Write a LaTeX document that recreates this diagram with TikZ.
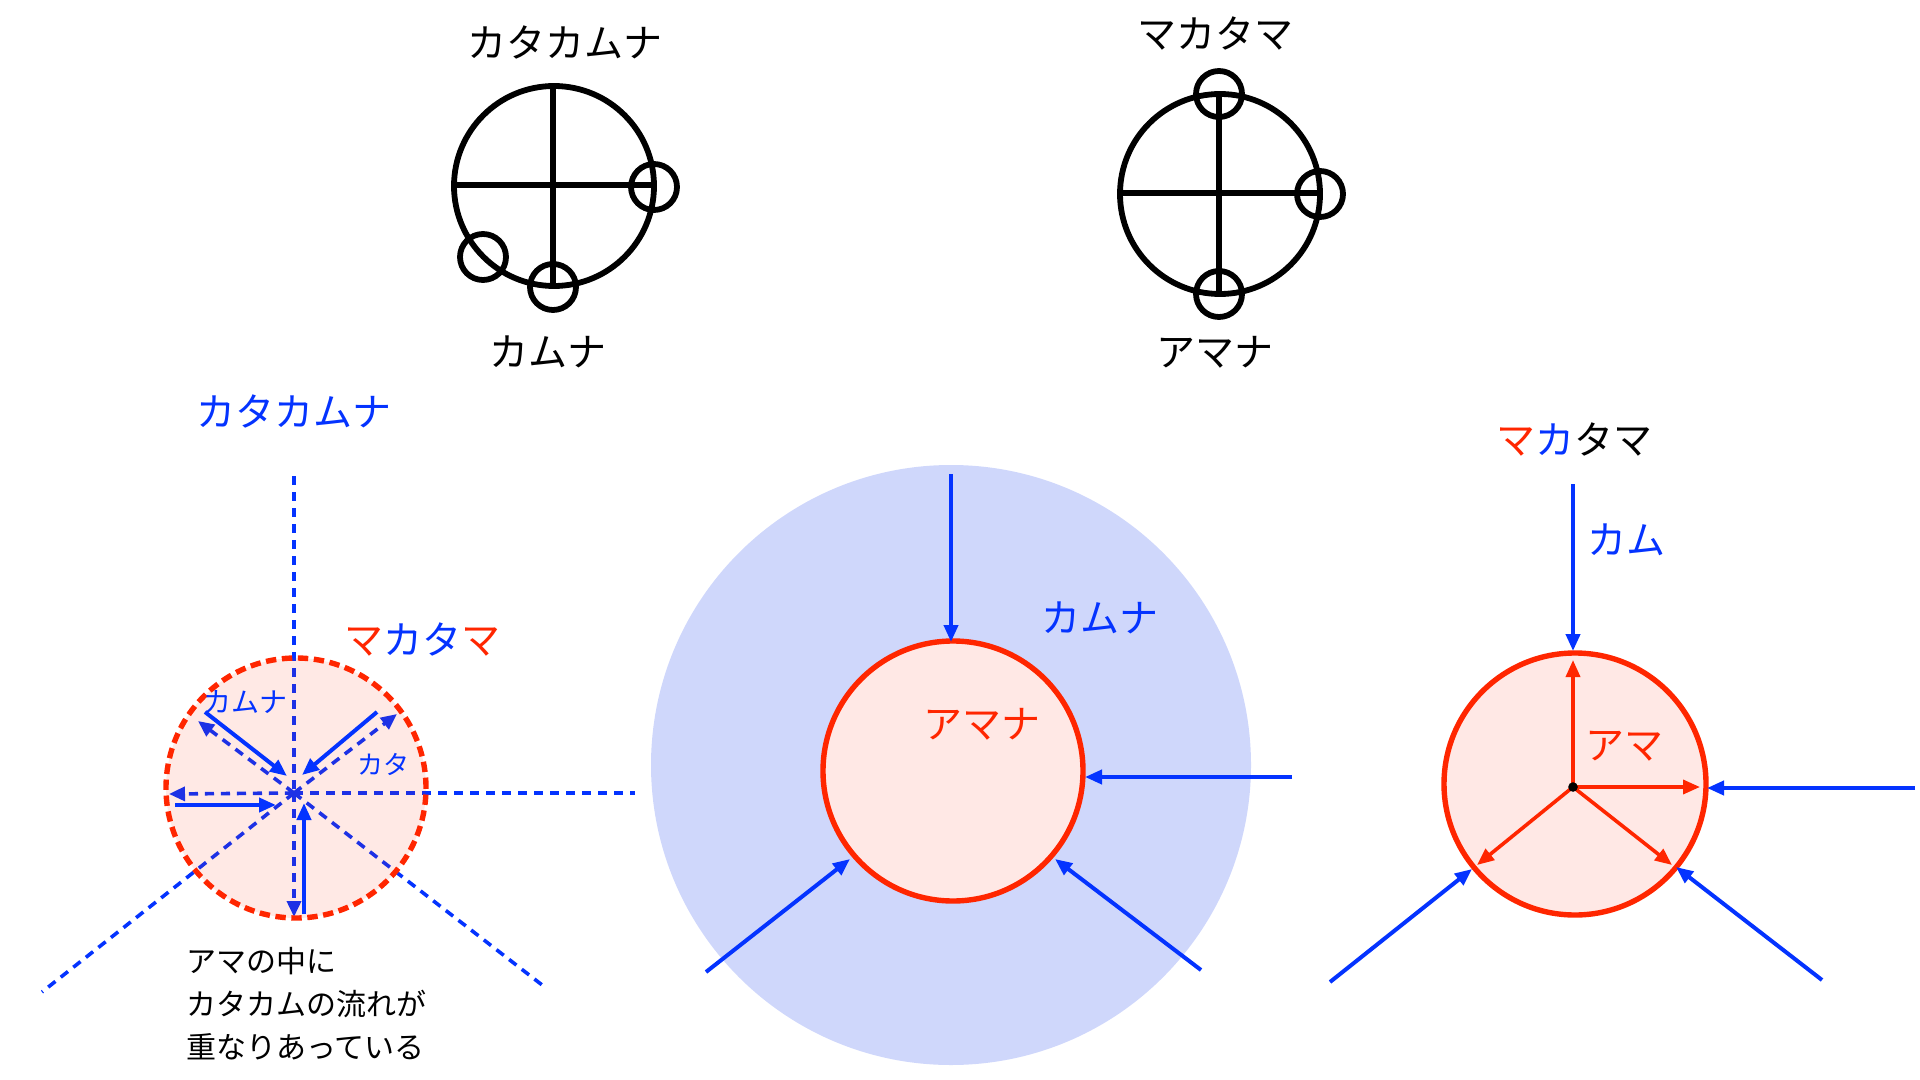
\documentclass[tikz,border=0pt]{standalone}
\usepackage{fontspec}
\setmainfont{Noto Sans CJK JP}
\usetikzlibrary{arrows.meta}
\definecolor{kblue}{RGB}{4,51,255}
\definecolor{kred}{RGB}{255,38,0}
\definecolor{kpink}{RGB}{255,232,229}
\definecolor{kdisc}{RGB}{207,215,251}
\tikzset{
  emb/.style={line width=2.9pt, draw=black},
  bigtxt/.style={font=\fontsize{19.5}{23}\selectfont, inner sep=0pt},
  midtxt/.style={font=\fontsize{14}{17}\selectfont, inner sep=0pt},
  bodytxt/.style={font=\fontsize{15}{21.5}\selectfont, inner sep=0pt, align=left, anchor=west},
  barr/.style={draw=kblue, line width=2pt, -{Triangle[length=8.5pt,width=7pt]}},
  rarr/.style={draw=kred, fill=kred, line width=1.8pt, -{Triangle[length=8.5pt,width=7pt]}},
  bdash/.style={draw=kblue, line width=1.8pt, dash pattern=on 4.6pt off 3.4pt},
  bdarr/.style={bdash, -{Triangle[length=8pt,width=7pt]}},
  ring/.style={draw=kred, line width=2.7pt, fill=kpink},
}
\begin{document}
\begin{tikzpicture}[x=0.5pt,y=-0.5pt]
\useasboundingbox (0,0) rectangle (1920,1080);

% ---------- top-left emblem ----------
\draw[emb] (554,186) circle[radius=50pt];
\draw[emb] (553,86) -- (553,286);
\draw[emb] (455,185) -- (653,185);
\draw[emb] (654,187) circle[radius=11.5pt];
\draw[emb] (553,287) circle[radius=11.5pt];
\draw[emb] (483,257) circle[radius=11.5pt];
\node[bigtxt] (tlT) at (565,42) {カタカムナ};
\node[bigtxt] (tlB) at (548,352) {カムナ};

% ---------- top-right emblem ----------
\draw[emb] (1220,194) circle[radius=50pt];
\draw[emb] (1219,94) -- (1219,294);
\draw[emb] (1120,193) -- (1320,193);
\draw[emb] (1219,94) circle[radius=11.5pt];
\draw[emb] (1320,194) circle[radius=11.5pt];
\draw[emb] (1219,294) circle[radius=11.5pt];
\node[bigtxt] (trT) at (1215,34) {マカタマ};
\node[bigtxt] (trB) at (1215,352) {アマナ};

% ---------- left diagram ----------
\coordinate (C) at (294,793);
\coordinate (Ltop) at (294,476);
\coordinate (Lright) at (635,793);
\coordinate (Lll) at (42,992);
\coordinate (Llr) at (546,988);
\coordinate (Dul) at (198,721);
\coordinate (Dur) at (397,714);
\coordinate (Dl) at (169,794);
\coordinate (Dd) at (294,917);
\draw[bdash] (Ltop) -- (C);
\draw[bdash] (C) -- (Lright);
\draw[bdash] (C) -- (Lll);
\draw[bdash] (C) -- (Llr);
\draw[bdarr] (C) -- (Dul);
\draw[bdarr] (C) -- (Dur);
\draw[bdarr] (C) -- (Dl);
\draw[bdarr] (C) -- (Dd);
\fill[kred, opacity=0.1] (296,788) circle[radius=65pt];
\draw[kred, line width=2.7pt, dash pattern=on 5.2pt off 2.8pt] (296,788) circle[radius=65pt];
\coordinate (Sa1) at (205,712); \coordinate (Sa2) at (287,776);
\coordinate (Sb1) at (377,712); \coordinate (Sb2) at (302,775);
\coordinate (Sc1) at (175,805); \coordinate (Sc2) at (276,805);
\coordinate (Sd1) at (304,914); \coordinate (Sd2) at (304,803);
\draw[barr] (Sa1) -- (Sa2);
\draw[barr] (Sb1) -- (Sb2);
\draw[barr] (Sc1) -- (Sc2);
\draw[barr] (Sd1) -- (Sd2);
\node[bigtxt, text=kblue] (lT) at (294,411) {カタカムナ};
\node[bigtxt] (lM) at (422,640) {\textcolor{kred}{マ}\textcolor{kblue}{カタ}\textcolor{kred}{マ}};
\node[midtxt, text=kblue] (lK) at (245,702) {カムナ};
\node[font=\fontsize{13}{16}\selectfont, inner sep=0pt, text=kblue] (lKa) at (383,764) {カタ};
\node[bodytxt] (lBody) at (186,1004) {アマの中に\\カタカムの流れが\\重なりあっている};

% ---------- centre diagram ----------
\fill[kdisc] (951,765) circle[radius=150pt];
\draw[ring] (953,771) circle[radius=65pt];
\coordinate (Mt1) at (951,474); \coordinate (Mt2) at (951,642);
\coordinate (Mr1) at (1292,777); \coordinate (Mr2) at (1085,777);
\coordinate (Ml1) at (706,972); \coordinate (Ml2) at (850,859);
\coordinate (Mb1) at (1201,970); \coordinate (Mb2) at (1055,859);
\draw[barr] (Mt1) -- (Mt2);
\draw[barr] (Mr1) -- (Mr2);
\draw[barr] (Ml1) -- (Ml2);
\draw[barr] (Mb1) -- (Mb2);
\node[bigtxt, text=kred] (mA) at (982,724) {アマナ};
\node[bigtxt, text=kblue] (mK) at (1100,618) {カムナ};

% ---------- right diagram ----------
\draw[ring] (1575,784) circle[radius=65.5pt];
\coordinate (R) at (1573,787);
\coordinate (Ru) at (1573,660);
\coordinate (Rr) at (1700,787);
\coordinate (Rl) at (1477,865);
\coordinate (Rb) at (1672,865);
\draw[rarr] (R) -- (Ru);
\draw[rarr] (R) -- (Rr);
\draw[rarr] (R) -- (Rl);
\draw[rarr] (R) -- (Rb);
\fill[black] (R) circle[radius=2.4pt];
\coordinate (Bt1) at (1573,484); \coordinate (Bt2) at (1573,651);
\coordinate (Br1) at (1915,788); \coordinate (Br2) at (1707,788);
\coordinate (Bl1) at (1330,982); \coordinate (Bl2) at (1472,869);
\coordinate (Bb1) at (1822,980); \coordinate (Bb2) at (1676,867);
\draw[barr] (Bt1) -- (Bt2);
\draw[barr] (Br1) -- (Br2);
\draw[barr] (Bl1) -- (Bl2);
\draw[barr] (Bb1) -- (Bb2);
\node[bigtxt] (rM) at (1574,440) {\textcolor{kred}{マ}\textcolor{kblue}{カ}タマ};
\node[bigtxt, text=kblue] (rK) at (1626,540) {カム};
\node[bigtxt, text=kred] (rA) at (1624,746) {アマ};
\end{tikzpicture}
\end{document}
